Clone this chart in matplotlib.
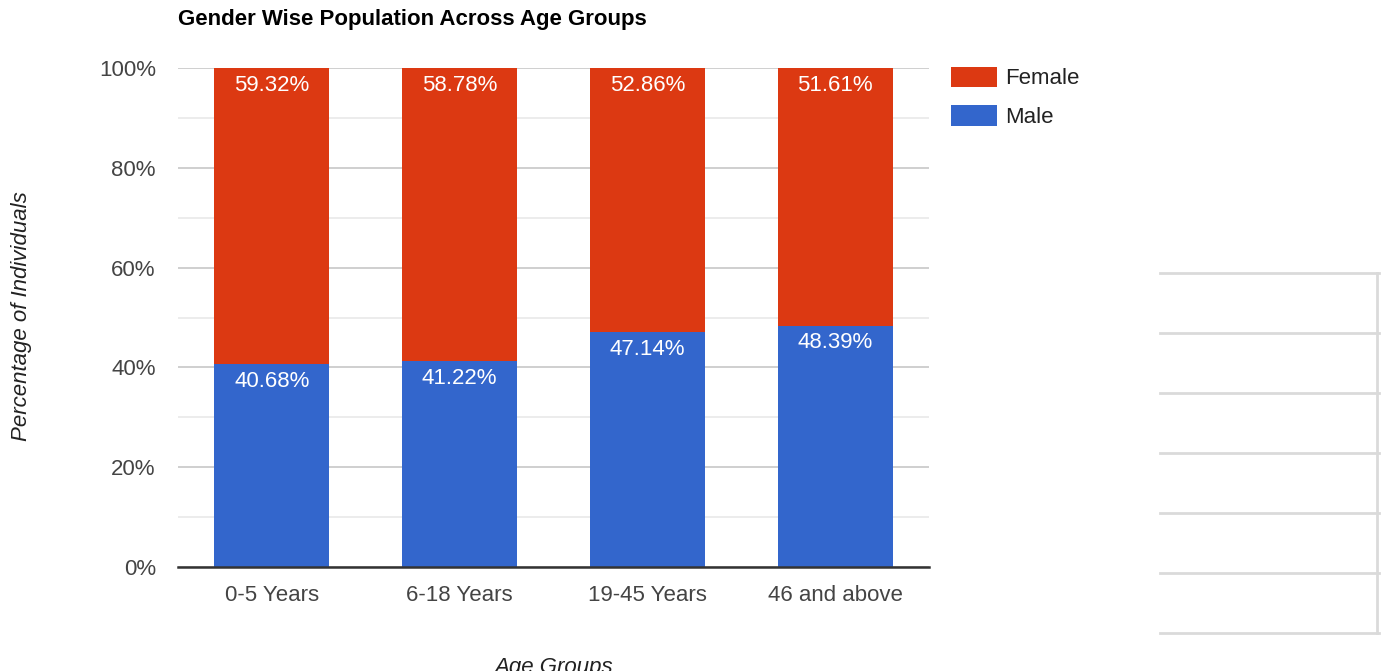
"""
plot.py - Gender wise population across age groups (100% stacked bars)
"""
import matplotlib
matplotlib.use("Agg")
import matplotlib.pyplot as plt
from matplotlib.lines import Line2D
import numpy as np

# data
age_groups = ["0-5 Years", "6-18 Years", "19-45 Years", "46 and above"]
male_pct = [40.68, 41.22, 47.14, 48.39]
female_pct = [59.32, 58.78, 52.86, 51.61]
y_ticks = [0, 20, 40, 60, 80, 100]

MALE_COLOR = "#3366cc"
FEMALE_COLOR = "#dc3912"
FS = 16

plt.rcParams['font.family'] = ['Liberation Sans', 'DejaVu Sans']

fig = plt.figure(figsize=(13.84, 6.71), dpi=100)
fig.patch.set_facecolor('white')
ax = fig.add_axes([178 / 1384, 1 - 567 / 671, 751 / 1384, 499 / 671])

x = np.arange(len(age_groups))
width = 0.613

bars_m = ax.bar(x, male_pct, width, color=MALE_COLOR, label="Male", zorder=3)
bars_f = ax.bar(x, female_pct, width, bottom=male_pct, color=FEMALE_COLOR,
                label="Female", zorder=3)

# value labels inside the top of each segment
for bars, vals, bottoms in ((bars_m, male_pct, [0] * 4), (bars_f, female_pct, male_pct)):
    for bar, v, b in zip(bars, vals, bottoms):
        ax.annotate(f"{v:.2f}%", xy=(bar.get_x() + bar.get_width() / 2, b + v),
                    xytext=(0, -5), textcoords='offset points',
                    ha='center', va='top', fontsize=FS, color='white', zorder=4)

ax.set_xlim(-0.5, len(age_groups) - 0.5)
ax.set_ylim(0, 100)
ax.set_yticks(y_ticks)
ax.set_yticklabels([f"{t}%" for t in y_ticks])
ax.set_yticks(np.arange(10, 100, 20), minor=True)
ax.set_xticks(x)
ax.set_xticklabels(age_groups)

ax.grid(True, axis='y', which='major', color='#cccccc', linewidth=1.3, zorder=0)
ax.grid(True, axis='y', which='minor', color='#ebebeb', linewidth=1.3, zorder=0)
ax.tick_params(axis='both', which='both', length=0, labelsize=FS, labelcolor='#444444')
ax.tick_params(axis='y', pad=16)
ax.tick_params(axis='x', pad=13)
for side in ['top', 'right', 'left']:
    ax.spines[side].set_visible(False)
ax.spines['bottom'].set_color('#333333')
ax.spines['bottom'].set_linewidth(1.8)
ax.spines['bottom'].set_zorder(5)

fig.text(178 / 1384, 1 - 20 / 671, "Gender Wise Population Across Age Groups",
         fontsize=FS, fontweight='bold', color='black', ha='left', va='center')
fig.text(22 / 1384, 1 - 316 / 671, "Percentage of Individuals", rotation=90,
         fontsize=FS, style='italic', color='#222222', ha='center', va='center')
fig.text(553 / 1384, 1 - 673 / 671, "Age Groups",
         fontsize=FS, style='italic', color='#222222', ha='center', va='baseline')

handles, labels = ax.get_legend_handles_labels()
ax.legend(handles[::-1], labels[::-1], loc='upper left',
          bbox_to_anchor=(1.029, 1.003), frameon=False, fontsize=FS,
          handlelength=2.07, handleheight=1.03, handletextpad=0.36,
          labelspacing=0.72, borderpad=0, borderaxespad=0, labelcolor='#222222')

# empty grid box at the right edge
grid_col = '#dadada'
for yy in [273, 333, 393, 453, 513, 573, 633]:
    fig.add_artist(Line2D([1160 / 1384, 1379 / 1384], [1 - yy / 671] * 2,
                          color=grid_col, linewidth=2))
fig.add_artist(Line2D([1377 / 1384] * 2, [1 - 273 / 671, 1 - 633 / 671],
                      color=grid_col, linewidth=2))

fig.savefig("out.png", dpi=100, facecolor='white')
